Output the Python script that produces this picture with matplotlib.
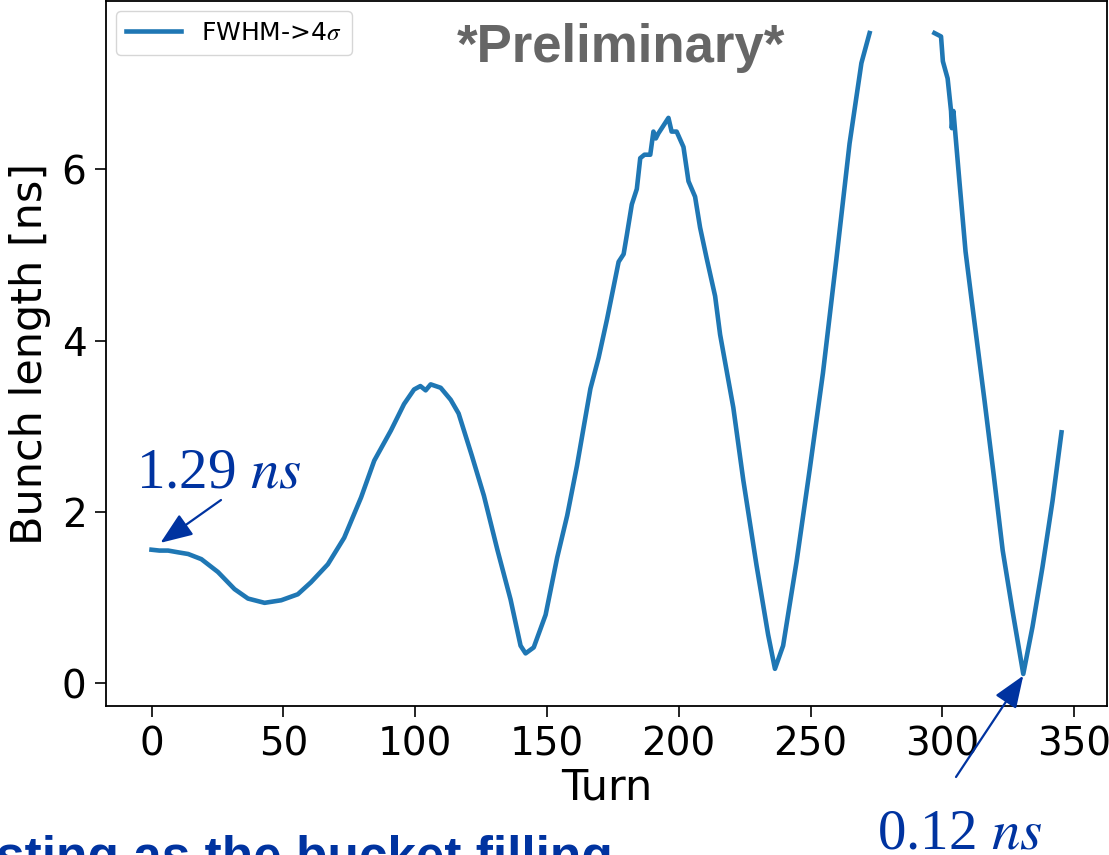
import numpy as np
import matplotlib
matplotlib.use("Agg")
import matplotlib.pyplot as plt

# ---- data ----
turns = [0, 3, 6.3, 10, 13.9, 18.9, 25.2, 31.5, 36.6, 42.9, 49.2, 55.5, 60.5, 66.9,
         73.1, 79.5, 84.5, 90.8, 95.8, 99.6, 102, 104, 105.9, 109.7, 113.5, 116.5,
         121.5, 126.1, 131.2, 136.2, 140, 141.9, 145, 149.5, 153.9, 157.7, 161.4,
         164, 166.5, 169.6, 172.8, 175.3, 177.2, 179.1, 180.3, 182.2, 184.1, 185.4,
         187, 189.2, 190.4, 191.3, 192.3, 194, 196.1, 197.3, 199.2, 201.8, 203.7,
         206.2, 208.1, 210.6, 213.8, 215.7, 220.7, 224.5, 229.5, 233.9, 236.5,
         239.6, 244.7, 249.7, 254.7, 259.8, 264.8, 269.3, 272.4, 285, 297, 299.5,
         300.2, 302, 303.3, 303.6, 304.2, 306.5, 308.8, 311, 313.5, 316, 319.5,
         322.9, 326.6, 330.7, 334.2, 338, 341.8, 345.2]
bunch_length = [1.56, 1.55, 1.55, 1.53, 1.51, 1.45, 1.30, 1.10, 0.99, 0.94, 0.97, 1.04,
                1.18, 1.39, 1.70, 2.17, 2.60, 2.95, 3.26, 3.43, 3.47, 3.42, 3.49, 3.45,
                3.31, 3.15, 2.66, 2.19, 1.56, 0.98, 0.44, 0.35, 0.42, 0.80, 1.47, 1.96,
                2.54, 3.00, 3.44, 3.80, 4.25, 4.63, 4.92, 5.01, 5.23, 5.59, 5.77, 6.13,
                6.17, 6.17, 6.44, 6.36, 6.42, 6.50, 6.60, 6.44, 6.44, 6.26, 5.86, 5.68,
                5.32, 4.96, 4.52, 4.07, 3.22, 2.37, 1.38, 0.57, 0.17, 0.44, 1.42, 2.50,
                3.62, 4.95, 6.30, 7.24, 7.59, np.nan, 7.59, 7.55, 7.26, 7.06, 6.68,
                6.48, 6.68, 5.85, 5.04, 4.50, 3.90, 3.30, 2.43, 1.55, 0.85, 0.11, 0.66,
                1.36, 2.13, 2.93]
series_label = r"FWHM->4$\sigma$"
x_label = "Turn"
y_label = "Bunch length [ns]"
xticks = [0, 50, 100, 150, 200, 250, 300, 350]
yticks = [0, 2, 4, 6]
ann_start = "1.29 $ns$"
ann_end = "0.12 $ns$"
start_point = (3.4, 1.64)
end_point = (330.7, 0.09)

W, H = 1109, 855
fig = plt.figure(figsize=(W / 100, H / 100), dpi=100)
plt.rcParams['mathtext.fontset'] = 'stix'
ax = fig.add_axes([106 / W, (H - 706) / H, (1107 - 106) / W, (706 - 1) / H])

ax.plot(turns, bunch_length, color="#1f77b4", lw=3.3, label=series_label,
        solid_joinstyle="round")
ax.set_xticks(xticks)
ax.set_yticks(yticks)
ax.tick_params(labelsize=28, length=8, width=1.2, pad=6)
for s in ax.spines.values():
    s.set_linewidth(1.3)
ax.set_xlabel(x_label, fontsize=31, labelpad=2)
ax.set_ylabel(y_label, fontsize=31, labelpad=8)
leg = ax.legend(loc="upper left", fontsize=18, handlelength=2.2,
                borderpad=0.4, borderaxespad=0.4)

blue = "#0033a0"
fig.text(621 / W, (H - 62) / H, "*Preliminary*", ha="center", va="baseline",
         fontsize=38, fontweight="bold", family="Liberation Sans", color="#666666")
fig.text(136 / W, (H - 487) / H, ann_start, ha="left", va="baseline",
         fontsize=41, family="Liberation Serif", color=blue)
fig.text(877 / W, (H - 848) / H, ann_end, ha="left", va="baseline",
         fontsize=41, family="Liberation Serif", color=blue)
fig.text(-4 / W, -18 / H, "sting as the bucket filling", ha="left", va="baseline",
         fontsize=37, fontweight="bold", family="Liberation Sans", color=blue)

ap = dict(arrowstyle="-|>,head_length=0.9,head_width=0.35", color=blue, lw=1.6,
          mutation_scale=22, shrinkA=0, shrinkB=0)
ax.annotate("", xy=start_point, xycoords="data", xytext=(221, H - 500),
            textcoords="figure pixels", arrowprops=ap, annotation_clip=False)
ax.annotate("", xy=end_point, xycoords="data", xytext=(956, H - 777),
            textcoords="figure pixels", arrowprops=ap, annotation_clip=False)

fig.savefig("out.png", dpi=100)
